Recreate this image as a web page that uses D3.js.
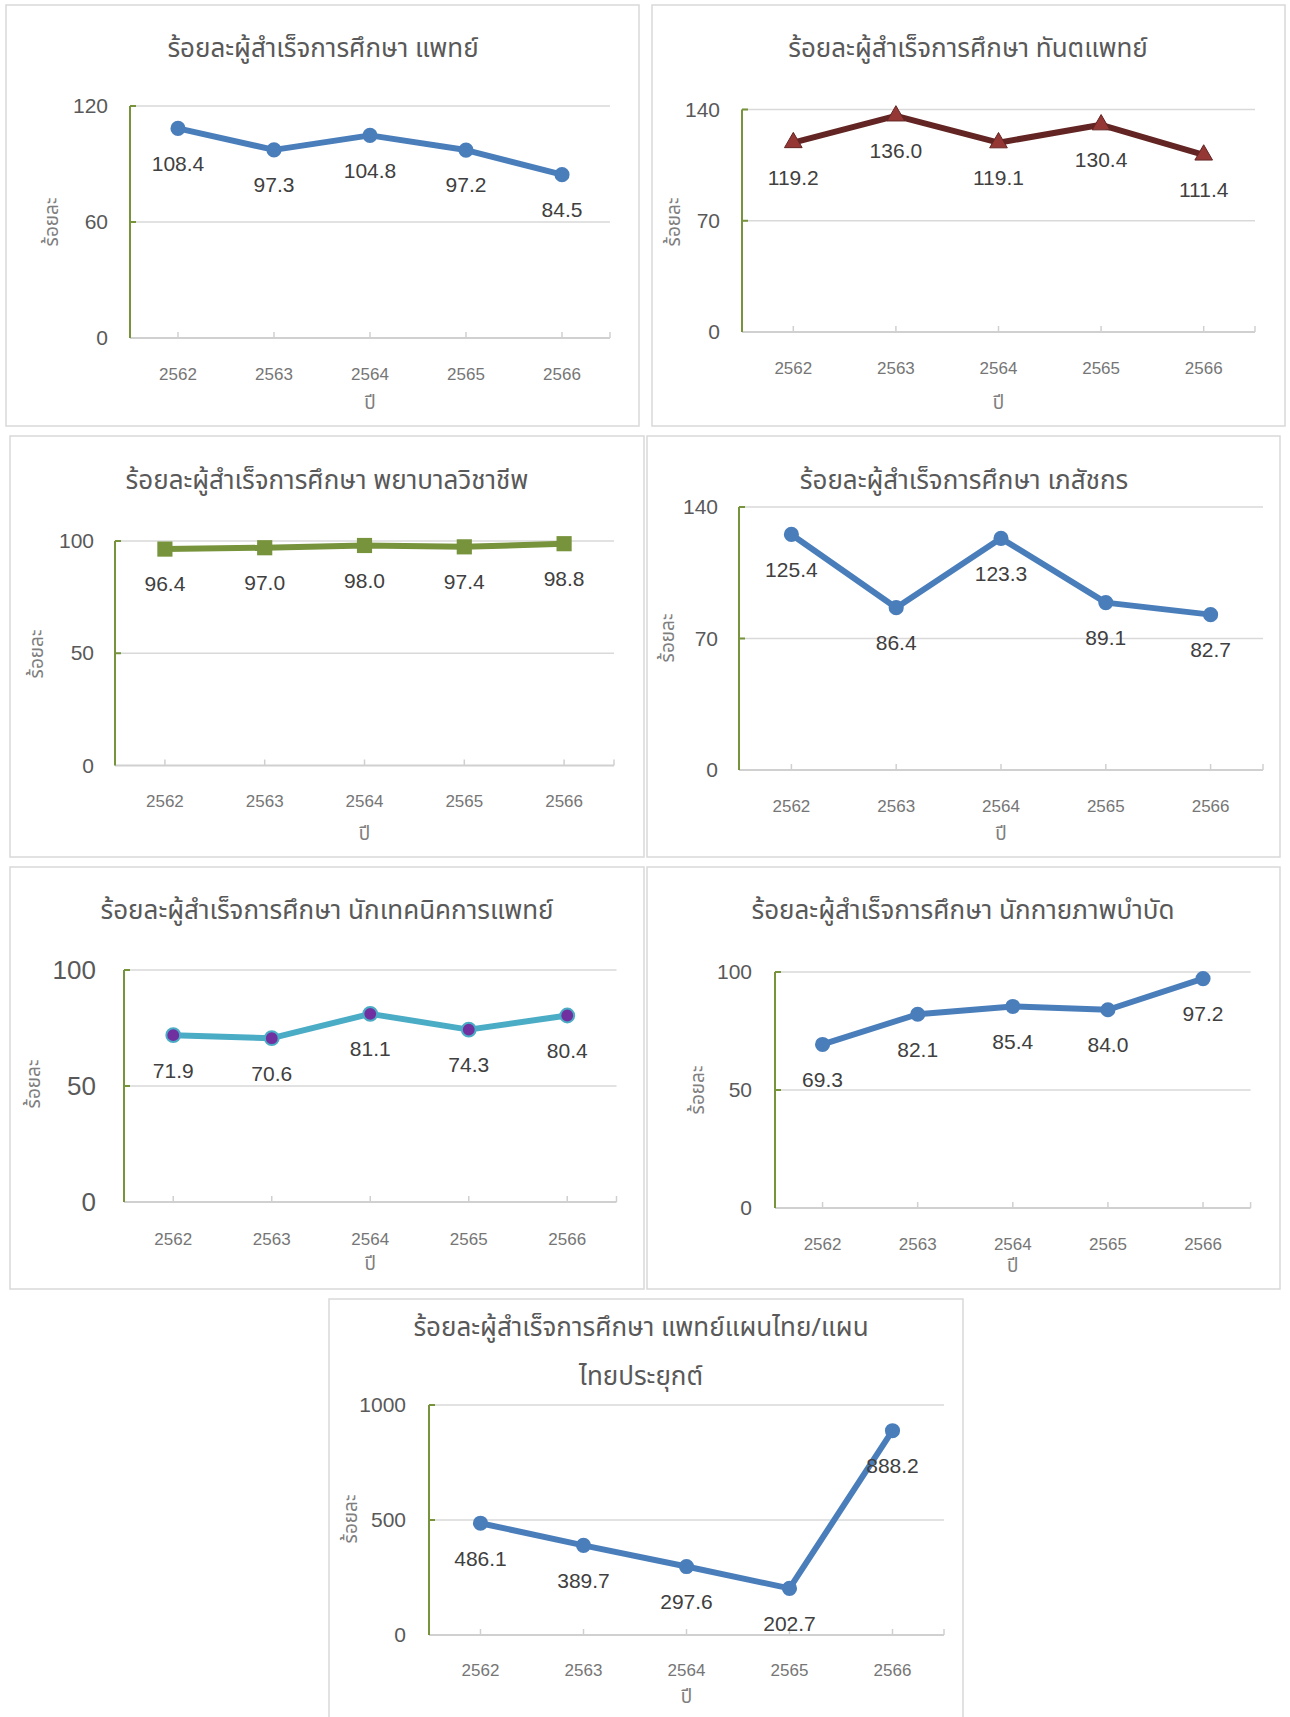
<!DOCTYPE html>
<html>
<head>
<meta charset="utf-8">
<script src="https://cdn.jsdelivr.net/npm/d3@7"></script>
<style>
  body { margin: 0; background: #fff; }
  svg text { font-family: 'Noto Sans Thai', 'Noto Sans', 'DejaVu Sans', sans-serif; }
  .num { font-family: 'Liberation Sans', Arial, sans-serif; }
</style>
</head>
<body>
<svg id="main_chart" width="1290" height="1717"></svg>
<script>
// ปีการศึกษา
const years = ['2562', '2563', '2564', '2565', '2566'];

// ร้อยละผู้สำเร็จการศึกษา แยกตามวิชาชีพ
const doctorValues = [108.4, 97.3, 104.8, 97.2, 84.5];
const dentistValues = [119.2, 136.0, 119.1, 130.4, 111.4];
const nurseValues = [96.4, 97.0, 98.0, 97.4, 98.8];
const pharmacistValues = [125.4, 86.4, 123.3, 89.1, 82.7];
const medTechValues = [71.9, 70.6, 81.1, 74.3, 80.4];
const physioValues = [69.3, 82.1, 85.4, 84.0, 97.2];
const thaiMedValues = [486.1, 389.7, 297.6, 202.7, 888.2];

// ค่าบนแกน y
const doctorTicks = [0, 60, 120];
const dentistTicks = [0, 70, 140];
const nurseTicks = [0, 50, 100];
const pharmacistTicks = [0, 70, 140];
const medTechTicks = [0, 50, 100];
const physioTicks = [0, 50, 100];
const thaiMedTicks = [0, 500, 1000];

const titles = [
  ['ร้อยละผู้สำเร็จการศึกษา แพทย์'],
  ['ร้อยละผู้สำเร็จการศึกษา ทันตแพทย์'],
  ['ร้อยละผู้สำเร็จการศึกษา พยาบาลวิชาชีพ'],
  ['ร้อยละผู้สำเร็จการศึกษา เภสัชกร'],
  ['ร้อยละผู้สำเร็จการศึกษา นักเทคนิคการแพทย์'],
  ['ร้อยละผู้สำเร็จการศึกษา นักกายภาพบำบัด'],
  ['ร้อยละผู้สำเร็จการศึกษา แพทย์แผนไทย/แผน', 'ไทยประยุกต์']
];
const yTitle = 'ร้อยละ';
const xTitle = 'ปี';

// layout of each small chart (pixels)
const panels = [
  {values: doctorValues, ticks: doctorTicks, box: [6, 5, 633, 421], plot: [130, 610, 106, 338], tickRight: 108, tickFont: 21, yt: [51, 222], xLabY: 374, xtY: 402, titleY: [48], cx: 323, line: '#4a7ebb', marker: 'circle'},
  {values: dentistValues, ticks: dentistTicks, box: [652, 5, 633, 421], plot: [742, 1255, 109.5, 332], tickRight: 720, tickFont: 21, yt: [673, 222], xLabY: 368, xtY: 402, titleY: [48], cx: 968, line: '#632523', marker: 'triangle'},
  {values: nurseValues, ticks: nurseTicks, box: [10, 436, 634, 421], plot: [115, 614, 541, 765.5], tickRight: 94, tickFont: 21, yt: [36, 654], xLabY: 801, xtY: 833, titleY: [480], cx: 327, line: '#77933c', marker: 'square'},
  {values: pharmacistValues, ticks: pharmacistTicks, box: [647, 436, 633, 421], plot: [739, 1263, 507, 770], tickRight: 718, tickFont: 21, yt: [667, 638], xLabY: 806, xtY: 833, titleY: [480], cx: 964, line: '#4a7ebb', marker: 'circle'},
  {values: medTechValues, ticks: medTechTicks, box: [10, 867, 634, 422], plot: [124, 616.5, 970, 1202], tickRight: 96, tickFont: 26, yt: [33, 1084], xLabY: 1239, xtY: 1263, titleY: [910], cx: 327, line: '#4bacc6', marker: 'purple'},
  {values: physioValues, ticks: physioTicks, box: [647, 867, 633, 422], plot: [775, 1250.6, 972, 1208], tickRight: 752, tickFont: 21, yt: [697, 1090], xLabY: 1244, xtY: 1265, titleY: [910], cx: 963, line: '#4a7ebb', marker: 'circle'},
  {values: thaiMedValues, ticks: thaiMedTicks, box: [329, 1299, 634, 440], plot: [429, 944, 1405, 1635], tickRight: 406, tickFont: 21, yt: [350, 1519], xLabY: 1670, xtY: 1696, titleY: [1327, 1376], cx: 641, line: '#4a7ebb', marker: 'circle'}
];

const svg = d3.select('#main_chart');

panels.forEach(function(p, idx) {
  const g = svg.append('g').attr('class', 'panel');
  const left = p.plot[0], right = p.plot[1], top = p.plot[2], bottom = p.plot[3];

  g.append('rect')
    .attr('x', p.box[0]).attr('y', p.box[1])
    .attr('width', p.box[2]).attr('height', p.box[3])
    .attr('fill', '#fff').attr('stroke', '#d9d9d9').attr('stroke-width', 1.5);

  const x = d3.scaleBand().domain(years).range([left, right]);
  const y = d3.scaleLinear().domain([0, d3.max(p.ticks)]).range([bottom, top]);
  const cx = function(d, i) { return x(years[i]) + x.bandwidth() / 2; };

  // gridlines
  g.selectAll('line.grid').data(p.ticks.slice(1)).enter().append('line')
    .attr('class', 'grid')
    .attr('x1', left).attr('x2', right)
    .attr('y1', function(d) { return y(d); }).attr('y2', function(d) { return y(d); })
    .attr('stroke', '#d9d9d9').attr('stroke-width', 1.5);

  // x axis line and ticks
  g.append('line')
    .attr('x1', left).attr('x2', right).attr('y1', bottom).attr('y2', bottom)
    .attr('stroke', '#d0d0d0').attr('stroke-width', 2);
  g.selectAll('line.xtick').data(years.concat(['end'])).enter().append('line')
    .attr('class', 'xtick')
    .attr('x1', function(d) { return d === 'end' ? right : x(d) + x.bandwidth() / 2; })
    .attr('x2', function(d) { return d === 'end' ? right : x(d) + x.bandwidth() / 2; })
    .attr('y1', bottom - 6).attr('y2', bottom)
    .attr('stroke', '#d0d0d0').attr('stroke-width', 1.5);

  // y axis (green) with inside ticks
  g.append('line')
    .attr('x1', left).attr('x2', left).attr('y1', top).attr('y2', bottom)
    .attr('stroke', '#77933c').attr('stroke-width', 2);
  g.selectAll('line.ytick').data(p.ticks.slice(1)).enter().append('line')
    .attr('class', 'ytick')
    .attr('x1', left).attr('x2', left + 6)
    .attr('y1', function(d) { return y(d); }).attr('y2', function(d) { return y(d); })
    .attr('stroke', '#77933c').attr('stroke-width', 2);

  // y tick labels via d3 axis
  const yAxis = g.append('g')
    .attr('transform', 'translate(' + p.tickRight + ',0)')
    .call(d3.axisLeft(y).tickValues(p.ticks).tickSize(0).tickPadding(0).tickFormat(d3.format('d')));
  yAxis.select('.domain').remove();
  yAxis.selectAll('text')
    .attr('class', 'num')
    .attr('font-size', p.tickFont)
    .attr('fill', '#595959')
    .attr('x', 0);

  // x tick labels via d3 axis
  const xAxis = g.append('g')
    .attr('transform', 'translate(0,' + p.xLabY + ')')
    .call(d3.axisBottom(x).tickSize(0).tickPadding(0));
  xAxis.select('.domain').remove();
  xAxis.selectAll('text')
    .attr('class', 'num')
    .attr('font-size', 17)
    .attr('fill', '#767676')
    .attr('dy', '0.35em');

  // axis titles
  g.append('text')
    .attr('transform', 'translate(' + p.yt[0] + ',' + p.yt[1] + ') rotate(-90)')
    .attr('text-anchor', 'middle').attr('dy', '0.35em')
    .attr('font-size', 19).attr('fill', '#7f7f7f')
    .text(yTitle);
  g.append('text')
    .attr('x', x(years[2]) + x.bandwidth() / 2).attr('y', p.xtY)
    .attr('text-anchor', 'middle').attr('dy', '0.35em')
    .attr('font-size', 19).attr('fill', '#7f7f7f')
    .text(xTitle);

  // title
  titles[idx].forEach(function(t, k) {
    g.append('text')
      .attr('x', p.cx).attr('y', p.titleY[k])
      .attr('text-anchor', 'middle').attr('dy', '0.35em')
      .attr('font-size', 26).attr('fill', '#595959')
      .text(t);
  });

  // series line
  const line = d3.line().x(cx).y(function(d) { return y(d); });
  g.append('path').datum(p.values)
    .attr('d', line)
    .attr('fill', 'none').attr('stroke', p.line).attr('stroke-width', 6)
    .attr('stroke-linejoin', 'round');

  // markers
  const mk = g.selectAll('path.marker').data(p.values).enter().append('path')
    .attr('class', 'marker')
    .attr('transform', function(d, i) { return 'translate(' + cx(d, i) + ',' + y(d) + ')'; });
  if (p.marker === 'circle') {
    mk.attr('d', d3.symbol(d3.symbolCircle, 180)).attr('fill', p.line);
  } else if (p.marker === 'triangle') {
    mk.attr('d', d3.symbol(d3.symbolTriangle, 135)).attr('fill', '#953735').attr('stroke', '#632523').attr('stroke-width', 1);
  } else if (p.marker === 'square') {
    mk.attr('d', d3.symbol(d3.symbolSquare, 230)).attr('fill', '#77933c');
  } else {
    mk.attr('d', d3.symbol(d3.symbolCircle, 150)).attr('fill', '#7030a0').attr('stroke', '#4bacc6').attr('stroke-width', 2);
  }

  // data labels below points
  g.selectAll('text.dlabel').data(p.values).enter().append('text')
    .attr('class', 'dlabel num')
    .attr('x', cx).attr('y', function(d) { return y(d) + 35; })
    .attr('text-anchor', 'middle').attr('dy', '0.35em')
    .attr('font-size', 21).attr('fill', '#404040')
    .text(function(d) { return d.toFixed(1); });
});
</script>
</body>
</html>
